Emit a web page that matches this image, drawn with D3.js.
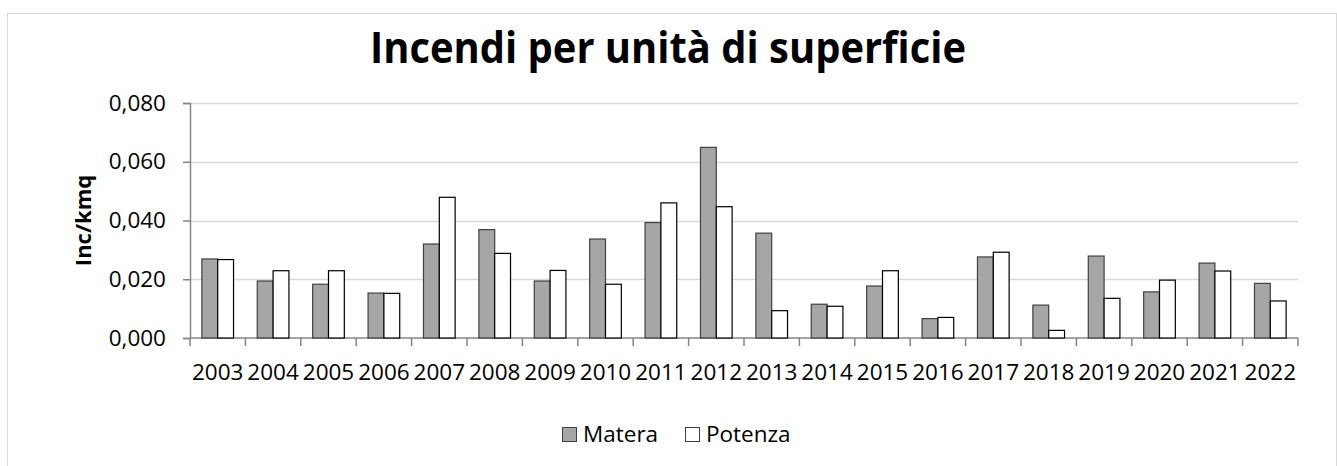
<!DOCTYPE html>
<html>
<head>
<meta charset="utf-8">
<script src="https://cdn.jsdelivr.net/npm/d3@7"></script>
<style>
  body { margin: 0; background: #fff; }
  svg { display: block; font-family: "Open Sans", sans-serif; }
</style>
</head>
<body>
<svg id="chart" width="1337" height="466"></svg>
<script>
// -----------------------------------------------------------------------------

var years = [
  '2003', '2004', '2005', '2006', '2007', '2008', '2009', '2010', '2011', '2012',
  '2013', '2014', '2015', '2016', '2017', '2018', '2019', '2020', '2021', '2022'
];
var materaValues = [
  0.0269, 0.0194, 0.0183, 0.0153, 0.0320, 0.0369, 0.0194, 0.0337, 0.0393, 0.0649,
  0.0357, 0.0115, 0.0177, 0.0066, 0.0276, 0.0112, 0.0279, 0.0157, 0.0255, 0.0186
];
var potenzaValues = [
  0.0267, 0.0229, 0.0229, 0.0152, 0.0479, 0.0288, 0.0230, 0.0183, 0.0460, 0.0447,
  0.0093, 0.0108, 0.0229, 0.0070, 0.0292, 0.0026, 0.0135, 0.0197, 0.0228, 0.0126
];
var seriesNames = ['Matera', 'Potenza'];
var yTicks = [0, 0.02, 0.04, 0.06, 0.08];

// -----------------------------------------------------------------------------

var svg = d3.select('#chart');

var margin = { left: 190, right: 39, top: 103, bottom: 128 };
var width = 1337 - margin.left - margin.right;
var height = 466 - margin.top - margin.bottom;

var fills = { Matera: '#a6a6a6', Potenza: '#ffffff' };
var strokes = { Matera: '#404040', Potenza: '#000000' };

// chart area border
svg.append('rect')
  .attr('x', 7.5).attr('y', 13.5)
  .attr('width', 1329).attr('height', 470)
  .attr('fill', 'none')
  .attr('stroke', '#d9d9d9')
  .attr('stroke-width', 1);

svg.append('text')
  .attr('x', 668).attr('y', 63)
  .attr('text-anchor', 'middle')
  .attr('font-weight', 'bold')
  .attr('font-size', 43)
  .attr('textLength', 596)
  .attr('lengthAdjust', 'spacingAndGlyphs')
  .attr('fill', '#000')
  .text('Incendi per unità di superficie');

var g = svg.append('g')
  .attr('transform', 'translate(' + margin.left + ',' + margin.top + ')');

var x0 = d3.scaleBand()
  .domain(years)
  .range([0, width])
  .paddingInner(1.5 / 3.5)
  .paddingOuter(0.75 / 3.5);

var x1 = d3.scaleBand()
  .domain(seriesNames)
  .range([0, x0.bandwidth()]);

var y = d3.scaleLinear()
  .domain([0, 0.08])
  .range([height, 0]);

// - - - - - - - - - - - - - - - - - - - - - - - - - - - - - - - - - - - - - -

g.append('g')
  .selectAll('line')
  .data(yTicks.filter(function (d) { return d > 0; }))
  .join('line')
  .attr('x1', 0).attr('x2', width)
  .attr('y1', function (d) { return Math.round(y(d)) + 0.5; })
  .attr('y2', function (d) { return Math.round(y(d)) + 0.5; })
  .attr('stroke', '#d9d9d9')
  .attr('stroke-width', 1.5);

var fmt = function (d) { return d3.format('.3f')(d).replace('.', ','); };

var yAxis = g.append('g')
  .call(d3.axisLeft(y).tickValues(yTicks).tickFormat(fmt).tickSize(7).tickPadding(17));
yAxis.select('.domain').attr('stroke', '#868686').attr('stroke-width', 1.5);
yAxis.selectAll('.tick line').attr('stroke', '#868686').attr('stroke-width', 1.5);
yAxis.selectAll('.tick text')
  .attr('font-size', 22.5)
  .attr('font-family', '"Open Sans", sans-serif')
  .attr('fill', '#000');

var step = x0.step();
var xAxis = g.append('g')
  .attr('transform', 'translate(0,' + height + ')');
xAxis.append('line')
  .attr('x1', 0).attr('x2', width)
  .attr('y1', 0).attr('y2', 0)
  .attr('stroke', '#868686').attr('stroke-width', 1.5);
xAxis.selectAll('line.tick')
  .data(d3.range(years.length + 1))
  .join('line')
  .classed('tick', true)
  .attr('x1', function (i) { return i * step; })
  .attr('x2', function (i) { return i * step; })
  .attr('y1', 0).attr('y2', 8)
  .attr('stroke', '#868686').attr('stroke-width', 1.5);
xAxis.selectAll('text')
  .data(years)
  .join('text')
  .attr('x', function (d) { return x0(d) + x0.bandwidth() / 2; })
  .attr('y', 42)
  .attr('text-anchor', 'middle')
  .attr('font-size', 22.5)
  .attr('fill', '#000')
  .text(function (d) { return d; });

// - - - - - - - - - - - - - - - - - - - - - - - - - - - - - - - - - - - - - -

var rows = years.map(function (yr, i) {
  return { year: yr, values: [
    { name: 'Matera', value: materaValues[i] },
    { name: 'Potenza', value: potenzaValues[i] }
  ] };
});

g.append('g')
  .selectAll('g')
  .data(rows)
  .join('g')
  .attr('transform', function (d) { return 'translate(' + x0(d.year) + ',0)'; })
  .selectAll('rect')
  .data(function (d) { return d.values; })
  .join('rect')
  .attr('x', function (d) { return x1(d.name); })
  .attr('y', function (d) { return y(d.value); })
  .attr('width', x1.bandwidth())
  .attr('height', function (d) { return height - y(d.value); })
  .attr('fill', function (d) { return fills[d.name]; })
  .attr('stroke', function (d) { return strokes[d.name]; })
  .attr('stroke-width', 1.2);

// - - - - - - - - - - - - - - - - - - - - - - - - - - - - - - - - - - - - - -

svg.append('text')
  .attr('transform', 'translate(91,' + (margin.top + height / 2) + ') rotate(-90)')
  .attr('text-anchor', 'middle')
  .attr('font-weight', 'bold')
  .attr('font-size', 22)
  .attr('fill', '#000')
  .text('Inc/kmq');

var legendX = [562, 685];
var legend = svg.append('g')
  .selectAll('g')
  .data(seriesNames)
  .join('g')
  .attr('transform', function (d, i) { return 'translate(' + legendX[i] + ',427)'; });
legend.append('rect')
  .attr('width', 14).attr('height', 14)
  .attr('x', 0.5).attr('y', 0.5)
  .attr('fill', function (d) { return fills[d]; })
  .attr('stroke', '#404040')
  .attr('stroke-width', 1);
legend.append('text')
  .attr('x', 21).attr('y', 15)
  .attr('font-size', 22.5)
  .attr('fill', '#000')
  .text(function (d) { return d; });
</script>
</body>
</html>
